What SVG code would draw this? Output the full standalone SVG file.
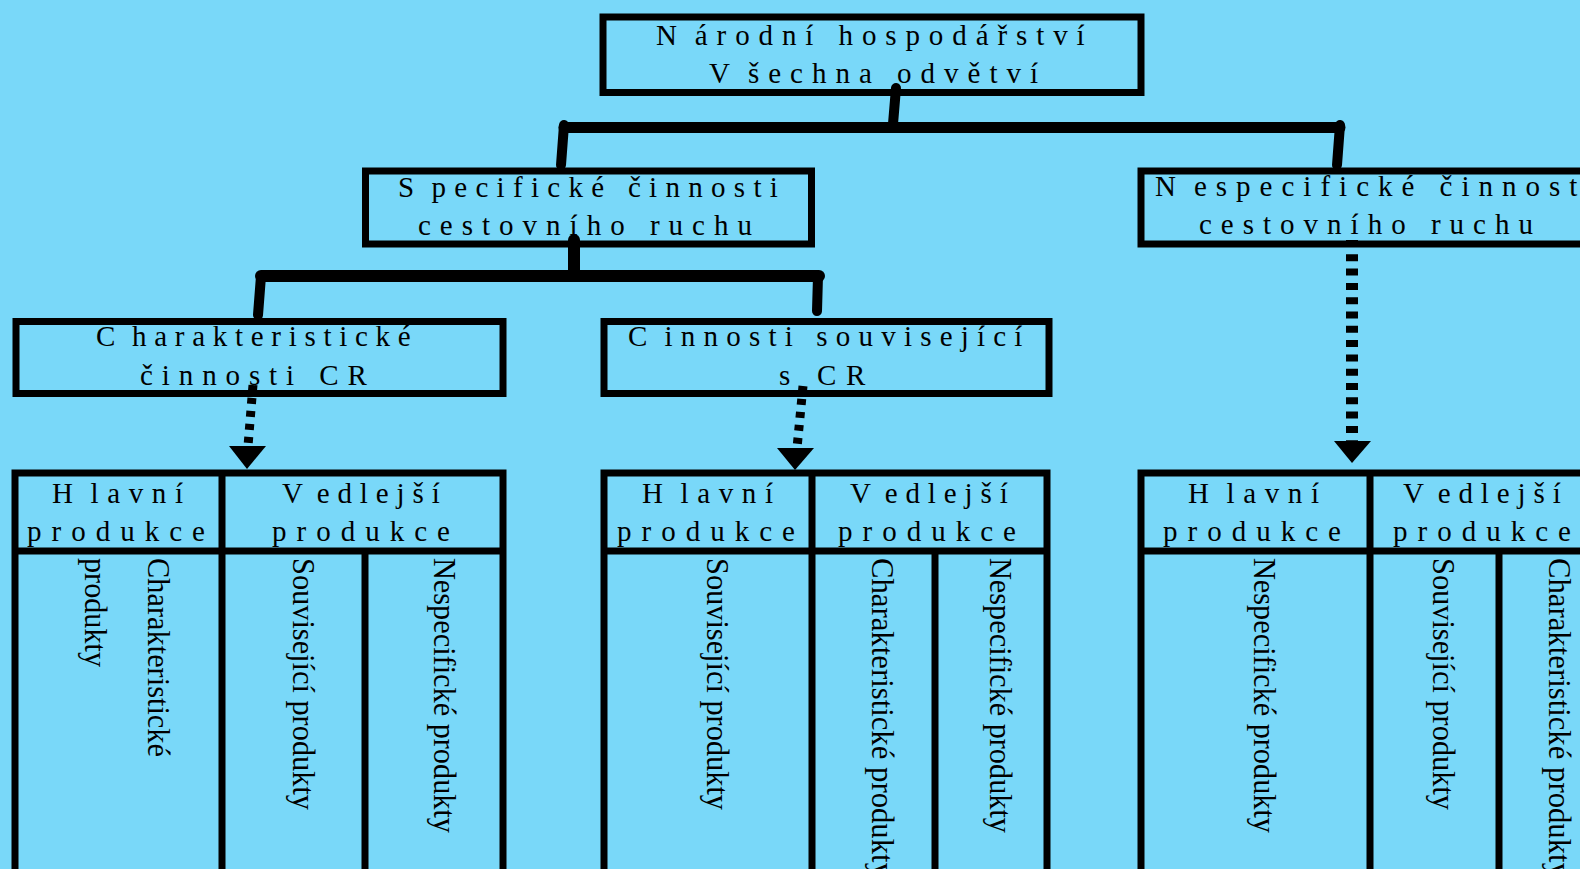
<svg xmlns="http://www.w3.org/2000/svg" width="1580" height="869" viewBox="0 0 1580 869">
<style>
.bg{fill:#79d8f9}
.box{fill:none;stroke:#000;stroke-width:7}
.ln{stroke:#000;stroke-width:7;fill:none}
.t{font-family:"Liberation Serif","Times New Roman",serif;font-size:29px;fill:#000}
.v{font-family:"Liberation Serif","Times New Roman",serif;font-size:32px;fill:#000}
.solid{stroke:#000;fill:none;stroke-linecap:round}
.dot{stroke:#000;fill:none}
.head{fill:#000}
</style>
<rect class="bg" x="0" y="0" width="1580" height="869"/>

<g id="connectors">
  <line class="solid" x1="896" y1="88" x2="893" y2="124" stroke-width="10"/>
  <line class="solid" x1="564" y1="127.5" x2="1340" y2="127.5" stroke-width="11"/>
  <line class="solid" x1="564" y1="125" x2="561" y2="165" stroke-width="10"/>
  <line class="solid" x1="1340" y1="125" x2="1337" y2="165" stroke-width="10"/>
  <line class="solid" x1="574" y1="240" x2="574" y2="274" stroke-width="12"/>
  <line class="solid" x1="261" y1="276" x2="819" y2="276" stroke-width="12"/>
  <line class="solid" x1="261" y1="276" x2="258" y2="315" stroke-width="10"/>
  <line class="solid" x1="818" y1="276" x2="817" y2="311" stroke-width="10"/>
  <line class="dot" x1="253" y1="385" x2="248" y2="446" stroke-width="9" stroke-dasharray="6 7"/>
  <polygon class="head" points="229,446 266,446 247,469"/>
  <line class="dot" x1="803" y1="386" x2="797" y2="448" stroke-width="9" stroke-dasharray="6 7"/>
  <polygon class="head" points="777,448 814,448 795,470"/>
  <line class="dot" x1="1352" y1="240" x2="1352" y2="441" stroke-width="12" stroke-dasharray="7 7.3"/>
  <polygon class="head" points="1334,441 1371,441 1352,463"/>
</g>

<g id="node-narodni">
  <rect class="box" x="603" y="17" width="538" height="75.5"/>
  <text class="t" x="656" y="45" letter-spacing="8.9">N<tspan dx="9">árodní hospodářství</tspan></text>
  <text class="t" x="709" y="83" letter-spacing="9">V<tspan dx="9">šechna odvětví</tspan></text>
</g>

<g id="node-specificke">
  <rect class="box" x="365.5" y="171" width="446" height="73"/>
  <text class="t" x="398" y="197" letter-spacing="8.3">S<tspan dx="9">pecifické činnosti</tspan></text>
  <text class="t" x="418" y="235" letter-spacing="9">cestovního ruchu</text>
</g>

<g id="node-nespecificke">
  <rect class="box" x="1141" y="171" width="500" height="73"/>
  <text class="t" x="1155" y="196" letter-spacing="9">N<tspan dx="9">especifické činnosti</tspan></text>
  <text class="t" x="1199" y="234" letter-spacing="9">cestovního ruchu</text>
</g>

<g id="node-charakteristicke">
  <rect class="box" x="16" y="321.5" width="487" height="72"/>
  <text class="t" x="96" y="346" letter-spacing="7.7">C<tspan dx="9">harakteristické</tspan></text>
  <text class="t" x="140" y="385" letter-spacing="8.9">činnosti CR</text>
</g>

<g id="node-souvisejici">
  <rect class="box" x="604" y="321.5" width="445" height="72"/>
  <text class="t" x="628" y="346" letter-spacing="8.2">C<tspan dx="9">innosti související</tspan></text>
  <text class="t" x="779" y="385" letter-spacing="9.7">s CR</text>
</g>

<g id="table-charakteristicke">
  <rect class="box" x="15" y="473" width="488" height="420"/>
  <line class="ln" x1="15" y1="551" x2="503" y2="551"/>
  <line class="ln" x1="222" y1="473" x2="222" y2="880"/>
  <line class="ln" x1="365" y1="551" x2="365" y2="880"/>
  <text class="t" x="52" y="503" letter-spacing="8.6">H<tspan dx="9">lavní</tspan></text>
  <text class="t" x="27" y="541" letter-spacing="10">produkce</text>
  <text class="t" x="282" y="503" letter-spacing="7.9">V<tspan dx="9">edlejší</tspan></text>
  <text class="t" x="272" y="541" letter-spacing="10">produkce</text>
  <text class="v" transform="translate(148,558) rotate(90)" textLength="199" lengthAdjust="spacingAndGlyphs">Charakteristické</text>
  <text class="v" transform="translate(85,558) rotate(90)" textLength="109" lengthAdjust="spacingAndGlyphs">produkty</text>
  <text class="v" transform="translate(293,558) rotate(90)" textLength="252" lengthAdjust="spacingAndGlyphs">Související produkty</text>
  <text class="v" transform="translate(434,558) rotate(90)" textLength="275" lengthAdjust="spacingAndGlyphs">Nespecifické produkty</text>
</g>

<g id="table-souvisejici">
  <rect class="box" x="604" y="473" width="443" height="420"/>
  <line class="ln" x1="604" y1="551" x2="1047" y2="551"/>
  <line class="ln" x1="812" y1="473" x2="812" y2="880"/>
  <line class="ln" x1="935" y1="551" x2="935" y2="880"/>
  <text class="t" x="642" y="503" letter-spacing="8.6">H<tspan dx="9">lavní</tspan></text>
  <text class="t" x="617" y="541" letter-spacing="10">produkce</text>
  <text class="t" x="850" y="503" letter-spacing="7.9">V<tspan dx="9">edlejší</tspan></text>
  <text class="t" x="838" y="541" letter-spacing="10">produkce</text>
  <text class="v" transform="translate(707,558) rotate(90)" textLength="252" lengthAdjust="spacingAndGlyphs">Související produkty</text>
  <text class="v" transform="translate(872,558) rotate(90)" textLength="320" lengthAdjust="spacingAndGlyphs">Charakteristické produkty</text>
  <text class="v" transform="translate(990,558) rotate(90)" textLength="275" lengthAdjust="spacingAndGlyphs">Nespecifické produkty</text>
</g>

<g id="table-nespecificke">
  <rect class="box" x="1141" y="473" width="500" height="420"/>
  <line class="ln" x1="1141" y1="551" x2="1641" y2="551"/>
  <line class="ln" x1="1370" y1="473" x2="1370" y2="880"/>
  <line class="ln" x1="1499" y1="551" x2="1499" y2="880"/>
  <text class="t" x="1188" y="503" letter-spacing="8.6">H<tspan dx="9">lavní</tspan></text>
  <text class="t" x="1163" y="541" letter-spacing="10">produkce</text>
  <text class="t" x="1403" y="503" letter-spacing="7.9">V<tspan dx="9">edlejší</tspan></text>
  <text class="t" x="1393" y="541" letter-spacing="10">produkce</text>
  <text class="v" transform="translate(1254,558) rotate(90)" textLength="275" lengthAdjust="spacingAndGlyphs">Nespecifické produkty</text>
  <text class="v" transform="translate(1433,558) rotate(90)" textLength="252" lengthAdjust="spacingAndGlyphs">Související produkty</text>
  <text class="v" transform="translate(1549,558) rotate(90)" textLength="320" lengthAdjust="spacingAndGlyphs">Charakteristické produkty</text>
</g>
</svg>
